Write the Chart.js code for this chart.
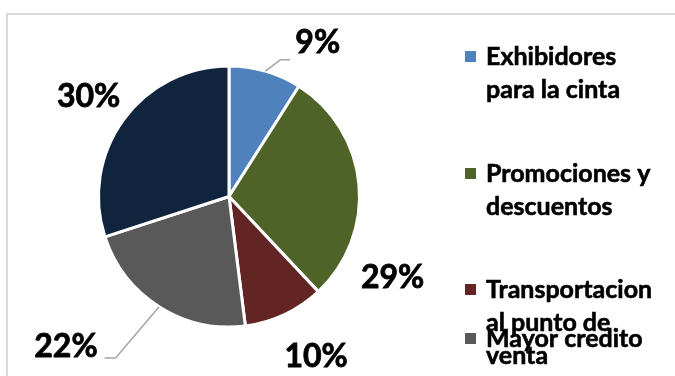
<!DOCTYPE html>
<html>
<head>
<meta charset="utf-8">
<script src="https://cdn.jsdelivr.net/npm/chart.js@4"></script>
<style>
  html, body { margin: 0; padding: 0; background: #fff; }
  #wrap { width: 675px; height: 376px; }
</style>
</head>
<body>
<div id="wrap"><canvas id="pie" width="675" height="376"></canvas></div>
<script>
// slice data, clockwise from 12 o'clock
const categories = [
  'Exhibidores para la cinta',
  'Promociones y descuentos',
  'Transportacion al punto de venta',
  'Mayor credito',
  'Otros'
];
const values = [9, 29, 10, 22, 30];
const colors = ['#4f81bd', '#4f6228', '#632523', '#595959', '#10243e'];

// legend text broken the way it wraps in the side panel
const legendLines = [
  ['Exhibidores', 'para la cinta'],
  ['Promociones y', 'descuentos'],
  ['Transportacion', 'al punto de', 'venta'],
  ['Mayor credito'],
  ['Otros']
];

// where each percentage sits: angle from top (deg) and distance in radii
const labelSpots = [
  { angle: 30, dist: 1.36, leader: true },
  { angle: 116.4, dist: 1.40, leader: false },
  { angle: 151.5, dist: 1.40, leader: false },
  { angle: 227.3, dist: 1.70, leader: true },
  { angle: 305.4, dist: 1.32, leader: false }
];

const FONT = 'Lato, "Open Sans", sans-serif';

// thin grey frame around the plot area
const framePlugin = {
  id: 'frame',
  beforeDraw(chart) {
    const ctx = chart.ctx;
    ctx.save();
    ctx.strokeStyle = '#d9d9d9';
    ctx.lineWidth = 2;
    ctx.beginPath();
    ctx.moveTo(7, 400);
    ctx.lineTo(7, 14);
    ctx.lineTo(700, 14);
    ctx.stroke();
    ctx.restore();
  }
};

// bold text with a hairline stroke so it reads heavier
function heavyText(ctx, t, x, y) {
  ctx.fillText(t, x, y);
  ctx.strokeText(t, x, y);
}

// percentage labels outside the pie, with elbow leaders where needed
const outsideLabels = {
  id: 'outsideLabels',
  afterDatasetsDraw(chart) {
    const ctx = chart.ctx;
    const meta = chart.getDatasetMeta(0);
    const total = values.reduce((a, b) => a + b, 0);
    ctx.save();
    ctx.font = 'bold 32px ' + FONT;
    ctx.textAlign = 'center';
    ctx.textBaseline = 'middle';
    meta.data.forEach((arc, i) => {
      const { x, y, outerRadius, startAngle, endAngle } = arc.getProps(['x', 'y', 'outerRadius', 'startAngle', 'endAngle'], true);
      const spot = labelSpots[i];
      const a = (spot.angle - 90) * Math.PI / 180;
      const lx = x + Math.cos(a) * outerRadius * spot.dist;
      const ly = y + Math.sin(a) * outerRadius * spot.dist;
      const text = Math.round(values[i] / total * 100) + '%';
      ctx.fillStyle = '#000';
      ctx.strokeStyle = '#000';
      ctx.lineWidth = 0.8;
      heavyText(ctx, text, lx, ly);

      if (spot.leader) {
        const mid = (startAngle + endAngle) / 2;
        const sx = x + Math.cos(mid) * outerRadius;
        const sy = y + Math.sin(mid) * outerRadius;
        const w = ctx.measureText(text).width;
        const right = lx > sx;
        const ex = right ? lx - w / 2 - 5 : lx + w / 2 + 7;
        const ey = ly + (right ? 17 : 11);
        const bx = right ? ex - 10 : ex + 11;
        ctx.strokeStyle = '#a6a6a6';
        ctx.lineWidth = 1.5;
        ctx.beginPath();
        ctx.moveTo(sx, sy);
        ctx.lineTo(bx, ey);
        ctx.lineTo(ex, ey);
        ctx.stroke();
      }
    });
    ctx.restore();
  }
};

// side legend: square markers and wrapped bold text
const sideLegend = {
  id: 'sideLegend',
  afterDraw(chart) {
    const ctx = chart.ctx;
    const baselines = [65, 182, 298, 347, 464];
    ctx.save();
    ctx.font = 'bold 25px ' + FONT;
    ctx.textAlign = 'left';
    ctx.textBaseline = 'alphabetic';
    ctx.strokeStyle = '#000';
    ctx.lineWidth = 0.6;
    legendLines.forEach((lines, i) => {
      const by = baselines[i];
      ctx.fillStyle = colors[i];
      ctx.fillRect(465, by - 14, 11, 11);
      ctx.fillStyle = '#000';
      lines.forEach((t, j) => heavyText(ctx, t, 486, by + j * 33));
    });
    ctx.restore();
  }
};

new Chart(document.getElementById('pie'), {
  type: 'pie',
  data: {
    labels: categories,
    datasets: [{
      data: values,
      backgroundColor: colors,
      borderColor: '#ffffff',
      borderWidth: 3
    }]
  },
  options: {
    responsive: false,
    animation: false,
    layout: { padding: { left: 97, right: 314, top: 64, bottom: 47 } },
    plugins: {
      legend: { display: false },
      tooltip: { enabled: false }
    }
  },
  plugins: [framePlugin, outsideLabels, sideLegend]
});
</script>
</body>
</html>
